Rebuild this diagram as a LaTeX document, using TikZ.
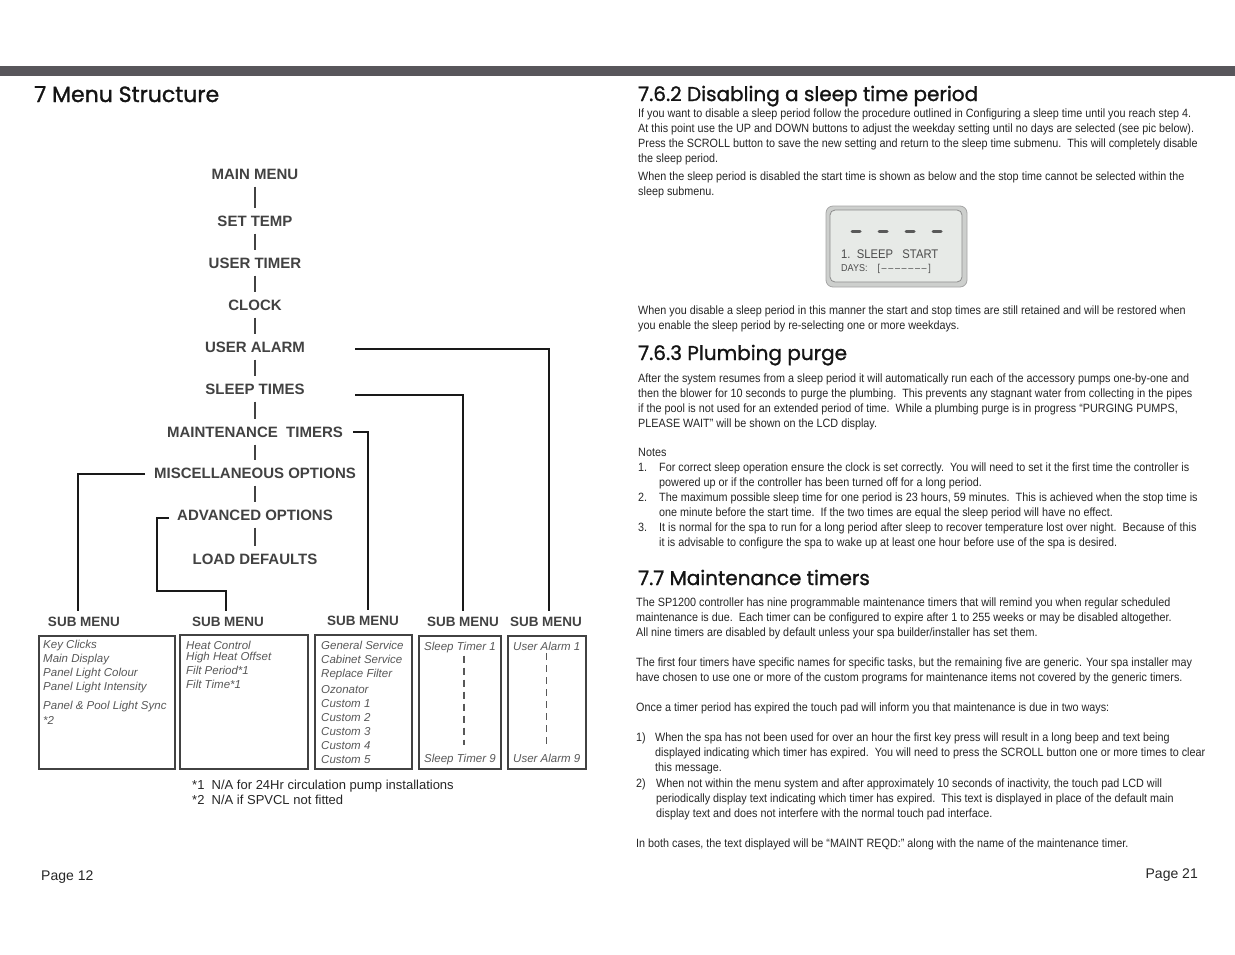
\documentclass[tikz,border=0pt]{standalone}
\usepackage{fontspec}
\setmainfont{Liberation Sans}
\newfontfamily\bodyfont[FakeStretch=0.9]{Liberation Sans}
\newfontfamily\headfont[FakeBold=1.2]{Poppins}

\definecolor{barGray}{RGB}{88,86,91}
\definecolor{menuGray}{RGB}{66,66,66}
\definecolor{boxText}{RGB}{88,88,88}
\definecolor{lcdFace}{RGB}{231,234,231}
\definecolor{lcdFrame}{RGB}{205,207,205}

\tikzset{
  heading/.style={font=\headfont\fontsize{20}{20}\selectfont, text=black!92, anchor=base west, inner sep=0pt},
  menuitem/.style={font=\fontsize{15}{15}\selectfont\bfseries, text=menuGray, inner sep=0pt,
    text height=10.5pt, text depth=0pt, minimum height=25pt},
  submenu/.style={font=\fontsize{13.5}{13.5}\selectfont\bfseries, text=menuGray, inner sep=0pt,
    text height=10pt, text depth=0pt, minimum height=20pt},
  spine/.style={line width=2.8pt, menuGray},
  branch/.style={line width=2.8pt, black!90},
  subbox/.style={draw=menuGray, line width=2.4pt},
  itemtext/.style={font=\fontsize{11.5}{14}\selectfont\itshape, text=boxText, anchor=base west, inner sep=0pt},
  dashline/.style={boxText, line width=1.2pt, dash pattern=on 7pt off 5pt},
  % multi-line text: the node is placed at the baseline of its LAST line
  bodytext/.style={font=\bodyfont\fontsize{12}{15}\selectfont, text=black!85, anchor=base west,
    inner sep=0pt, align=left},
  plaintext/.style={font=\fontsize{13}{15}\selectfont, text=black!85, anchor=base west, inner sep=0pt, align=left},
}

\begin{document}
\begin{tikzpicture}[x=1pt, y=-1pt]
  % --- Page frame ---
  \useasboundingbox (0,0) rectangle (1235,954);
  \fill[white] (0,0) rectangle (1235,954);
  \fill[barGray] (0,66) rectangle (1235,76);

  % ==============================================================
  % LEFT PAGE : menu structure
  % ==============================================================
  \node[heading, font=\headfont\fontsize{22}{22}\selectfont] (title) at (34,102) {7 Menu Structure};

  % --- Main menu column ---
  \node[menuitem] (mainmenu)   at (255,174) {MAIN MENU};
  \node[menuitem] (settemp)    at (255,221) {SET TEMP};
  \node[menuitem] (usertimer)  at (255,263) {USER TIMER};
  \node[menuitem] (clock)      at (255,305) {CLOCK};
  \node[menuitem] (useralarm)  at (255,347) {USER ALARM};
  \node[menuitem] (sleeptimes) at (255,389) {SLEEP TIMES};
  \node[menuitem] (maint)      at (255,432) {MAINTENANCE\ \ TIMERS};
  \node[menuitem] (misc)       at (255,473) {MISCELLANEOUS OPTIONS};
  \node[menuitem] (advanced)   at (255,515) {ADVANCED OPTIONS};
  \node[menuitem] (loaddef)    at (255,559) {LOAD DEFAULTS};

  \foreach \a/\b in {mainmenu/settemp, settemp/usertimer, usertimer/clock, clock/useralarm,
      useralarm/sleeptimes, sleeptimes/maint, maint/misc, misc/advanced, advanced/loaddef}
    \draw[spine] (\a.south) -- (\b.north);

  % --- Sub menu heads ---
  \node[submenu] (sub1) at (84,621)  {SUB MENU};
  \node[submenu] (sub2) at (228,621) {SUB MENU};
  \node[submenu] (sub3) at (363,620) {SUB MENU};
  \node[submenu] (sub4) at (463,621) {SUB MENU};
  \node[submenu] (sub5) at (546,621) {SUB MENU};

  % --- Branches to the sub menus ---
  \coordinate (alarmtap) at (355,349);
  \coordinate (sleeptap) at (355,395);
  \coordinate (mainttap) at (353,432);
  \coordinate (misctap)  at (145,474);
  \coordinate (advtap)   at (169,518);
  \coordinate (advbend)  at (157,591);
  \draw[branch] (alarmtap) -| ([xshift=3pt]sub5.north);
  \draw[branch] (sleeptap) -| (sub4.north);
  \draw[branch] (mainttap) -| ([xshift=5pt]sub3.north);
  \draw[branch] (misctap) -| ([xshift=-6pt]sub1.north);
  \draw[branch] (advtap) -| (advbend) -| ([xshift=-2pt]sub2.north);

  % --- Sub menu boxes ---
  \draw[subbox, line width=1.4pt] (39,636) rectangle (175,769);
  \draw[subbox] (180,635) rectangle (308,769);
  \draw[subbox] (315,635) rectangle (412,769);
  \draw[subbox] (419,636) rectangle (501,769);
  \draw[subbox] (508,636) rectangle (586,769);

  \foreach \y/\t [count=\i] in {648/Key Clicks, 662/Main Display, 676/Panel Light Colour,
      690/Panel Light Intensity, 709/Panel \& Pool Light Sync, 724/*2}
    \node[itemtext] (opt\i) at (43,\y) {\t};
  \foreach \y/\t [count=\i] in {649/Heat Control, 660/High Heat Offset, 674/Filt Period*1, 688/Filt Time*1}
    \node[itemtext] (heat\i) at (186,\y) {\t};
  \foreach \y/\t [count=\i] in {649/General Service, 663/Cabinet Service, 677/Replace Filter,
      693/Ozonator, 707/Custom 1, 721/Custom 2, 735/Custom 3, 749/Custom 4, 763/Custom 5}
    \node[itemtext] (svc\i) at (321,\y) {\t};

  \node[itemtext] (sleep1) at (424,650) {Sleep Timer 1};
  \node[itemtext] (sleep9) at (424,762) {Sleep Timer 9};
  \node[itemtext] (alarm1) at (513,650) {User Alarm 1};
  \node[itemtext] (alarm9) at (513,762) {User Alarm 9};
  \draw[dashline] ([xshift=4pt, yshift=-3pt]sleep1.south) -- ([xshift=4pt, yshift=8pt]sleep9.north);
  \draw[dashline] ([yshift=-3pt]alarm1.south) -- ([yshift=8pt]alarm9.north);

  % --- Footnotes and page number ---
  \node[plaintext] (note1) at (192,789) {*1\ \ N/A for 24Hr circulation pump installations};
  \node[plaintext] (note2) at (192,804) {*2\ \ N/A if SPVCL not fitted};
  \node[plaintext, font=\fontsize{14}{14}\selectfont] (page12) at (41,880) {Page 12};

  % ==============================================================
  % RIGHT PAGE : text
  % ==============================================================
  \node[heading] (h762) at (638,101) {7.6.2 Disabling a sleep time period};
  \node[bodytext] (p1) at (638,162) {If you want to disable a sleep period follow the procedure outlined in Configuring a sleep time until you reach step 4.\\
    At this point use the UP and DOWN buttons to adjust the weekday setting until no days are selected (see pic below).\\
    Press the SCROLL button to save the new setting and return to the sleep time submenu.\ \ This will completely disable\\
    the sleep period.};
  \node[bodytext] (p2) at (638,195) {When the sleep period is disabled the start time is shown as below and the stop time cannot be selected within the\\
    sleep submenu.};

  % --- LCD picture ---
  \draw[fill=lcdFrame, draw=black!35, line width=0.8pt, rounded corners=7pt] (826,206) rectangle (967,287);
  \draw[fill=lcdFace, draw=black!45, line width=0.8pt, rounded corners=5pt] (830,210) rectangle (962,282);
  \foreach \x in {856,883,910,937}
    \draw[line width=3pt, black!65, line cap=round] (\x-4,231) -- (\x+4,231);
  \node[bodytext, font=\bodyfont\fontsize{12.5}{12.5}\selectfont, text=black!70] (lcd1) at (841,258) {1.\ \ SLEEP\ \ \ START};
  \node[bodytext, font=\bodyfont\fontsize{10}{10}\selectfont, text=black!70] (lcd2) at (841,271)
    {DAYS:\ \ \ \ [\,–\,–\,–\,–\,–\,–\,–\,]};

  \node[bodytext] (p3) at (638,329) {When you disable a sleep period in this manner the start and stop times are still retained and will be restored when\\
    you enable the sleep period by re-selecting one or more weekdays.};

  \node[heading] (h763) at (638,360) {7.6.3 Plumbing purge};
  \node[bodytext] (p4) at (638,427) {After the system resumes from a sleep period it will automatically run each of the accessory pumps one-by-one and\\
    then the blower for 10 seconds to purge the plumbing.\ \ This prevents any stagnant water from collecting in the pipes\\
    if the pool is not used for an extended period of time.\ \ While a plumbing purge is in progress “PURGING PUMPS,\\
    PLEASE WAIT” will be shown on the LCD display.};
  \node[bodytext] (notes) at (638,456) {Notes};
  \node[bodytext] (n1) at (638,471) {1.};
  \node[bodytext] (n1t) at (659,486) {For correct sleep operation ensure the clock is set correctly.\ \ You will need to set it the first time the controller is\\
    powered up or if the controller has been turned off for a long period.};
  \node[bodytext] (n2) at (638,501) {2.};
  \node[bodytext] (n2t) at (659,516) {The maximum possible sleep time for one period is 23 hours, 59 minutes.\ \ This is achieved when the stop time is\\
    one minute before the start time.\ \ If the two times are equal the sleep period will have no effect.};
  \node[bodytext] (n3) at (638,531) {3.};
  \node[bodytext] (n3t) at (659,546) {It is normal for the spa to run for a long period after sleep to recover temperature lost over night.\ \ Because of this\\
    it is advisable to configure the spa to wake up at least one hour before use of the spa is desired.};

  \node[heading] (h77) at (638,585) {7.7 Maintenance timers};
  \node[bodytext] (p5) at (636,636) {The SP1200 controller has nine programmable maintenance timers that will remind you when regular scheduled\\
    maintenance is due.\ \ Each timer can be configured to expire after 1 to 255 weeks or may be disabled altogether.\\
    All nine timers are disabled by default unless your spa builder/installer has set them.};
  \node[bodytext] (p6) at (636,681) {The first four timers have specific names for specific tasks, but the remaining five are generic. Your spa installer may\\
    have chosen to use one or more of the custom programs for maintenance items not covered by the generic timers.};
  \node[bodytext] (p7) at (636,711) {Once a timer period has expired the touch pad will inform you that maintenance is due in two ways:};
  \node[bodytext] (w1) at (636,741) {1)};
  \node[bodytext] (w1t) at (655,771) {When the spa has not been used for over an hour the first key press will result in a long beep and text being\\
    displayed indicating which timer has expired.\ \ You will need to press the SCROLL button one or more times to clear\\
    this message.};
  \node[bodytext] (w2) at (636,787) {2)};
  \node[bodytext] (w2t) at (656,817) {When not within the menu system and after approximately 10 seconds of inactivity, the touch pad LCD will\\
    periodically display text indicating which timer has expired.\ \ This text is displayed in place of the default main\\
    display text and does not interfere with the normal touch pad interface.};
  \node[bodytext] (p8) at (636,847) {In both cases, the text displayed will be “MAINT REQD:” along with the name of the maintenance timer.};

  \node[plaintext, font=\fontsize{14}{14}\selectfont, anchor=base east] (page21) at (1198,878) {Page 21};
\end{tikzpicture}
\end{document}
